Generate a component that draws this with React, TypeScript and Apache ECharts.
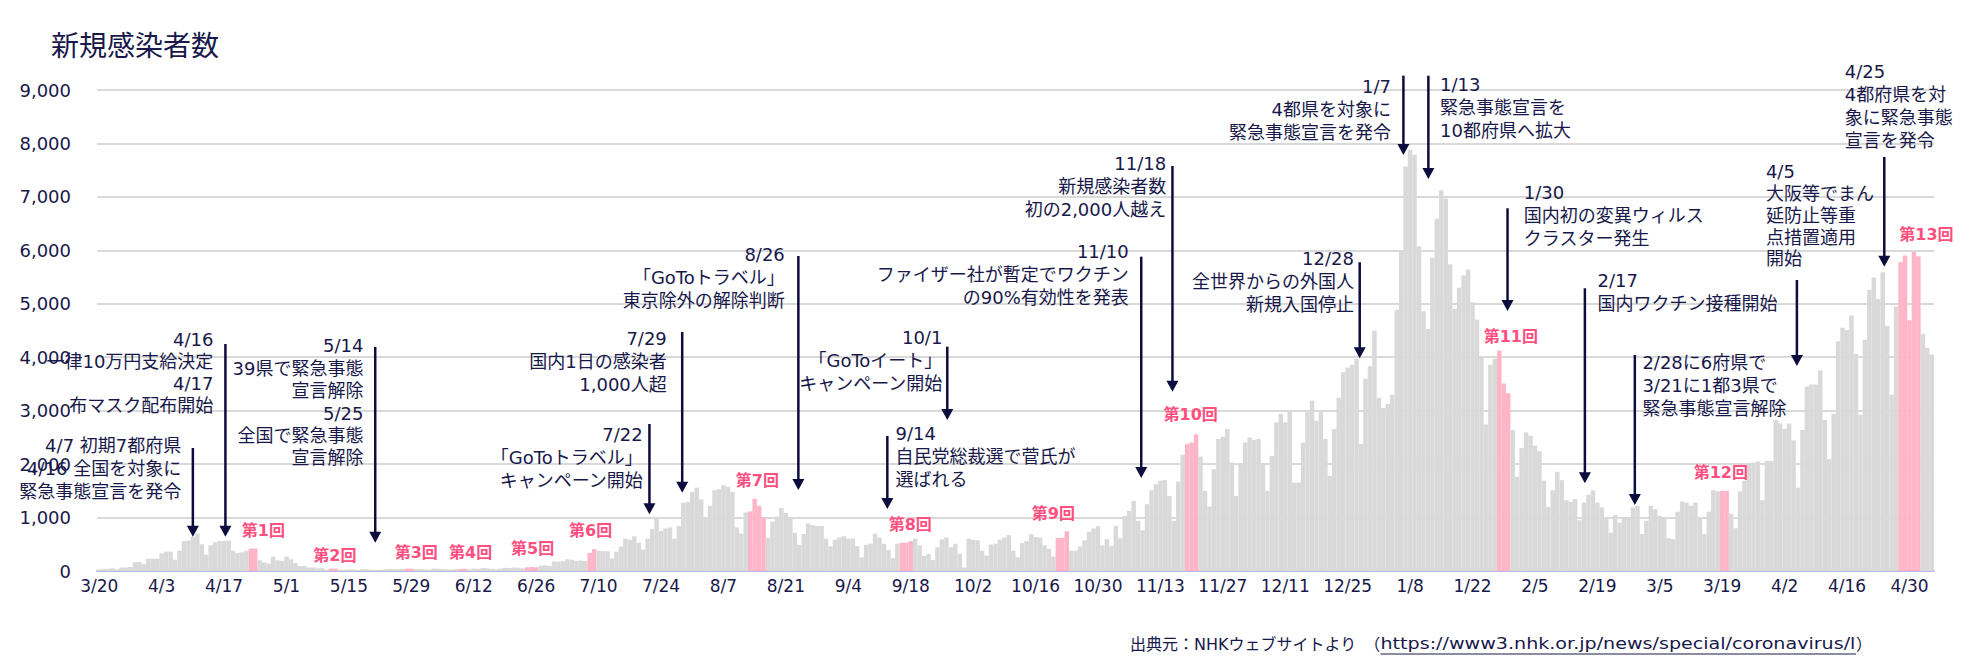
import React, { useEffect, useRef } from "react";
import * as echarts from "echarts";

// ---------------- data ----------------
const START_DATE = "2020-03-20";

const mar2020 = [30, 40, 40, 50, 30, 65, 65, 75, 165, 165, 127, 230];
const apr2020 = [230, 230, 330, 360, 360, 210, 380, 560, 570, 640, 700, 500, 305, 480, 540, 560, 560, 570, 380, 340, 350, 380, 420, 420, 200, 160, 140, 270, 200, 190];
const may2020 = [270, 220, 150, 95, 95, 65, 65, 50, 50, 20, 45, 45, 25, 25, 30, 30, 20, 35, 30, 25, 20, 15, 30, 40, 35, 30, 40, 45, 45, 40, 35];
const jun2020 = [30, 25, 45, 40, 35, 30, 25, 35, 35, 40, 30, 45, 40, 55, 50, 40, 30, 45, 60, 55, 65, 60, 50, 70, 75, 70, 100, 105, 95, 180];
const jul2020 = [175, 185, 220, 210, 190, 195, 185, 340, 410, 380, 370, 370, 235, 360, 460, 605, 585, 650, 530, 400, 605, 785, 975, 750, 795, 815, 605, 840, 1275, 1290, 1480];
const aug2020 = [1560, 1340, 975, 1220, 1515, 1530, 1605, 1575, 1480, 815, 700, 1095, 1115, 1350, 1220, 1005, 620, 925, 1020, 1180, 1085, 1005, 715, 490, 690, 890, 860, 840, 840, 605, 460];
const sep2020 = [585, 625, 650, 605, 605, 465, 255, 490, 510, 700, 625, 510, 395, 240, 510, 530, 530, 560, 605, 480, 285, 320, 205, 445, 590, 625, 445, 510, 320, 65];
const oct2020 = [605, 585, 575, 380, 285, 495, 510, 585, 625, 670, 380, 255, 520, 560, 690, 635, 625, 480, 415, 270, 620, 620, 745, 380, 380, 460, 575, 735, 795, 840, 480];
const nov2020 = [595, 470, 845, 610, 1030, 1125, 1310, 940, 760, 1250, 1510, 1625, 1690, 1700, 1405, 940, 1675, 2175, 2375, 2405, 2560, 2140, 1500, 1205, 1905, 2470, 2510, 2655, 2030, 1405];
const dec2020 = [2010, 2405, 2500, 2450, 2470, 2010, 1500, 2155, 2780, 2940, 2780, 3010, 1655, 1655, 2405, 2970, 3190, 2810, 2970, 2470, 1780, 2655, 3240, 3720, 3810, 3860, 3970, 2375, 3595, 3830, 4500];
const jan2021 = [3240, 3050, 3125, 3300, 4890, 5970, 7570, 7880, 7790, 6075, 4860, 4530, 5860, 6590, 7125, 6970, 5740, 4905, 5300, 5530, 5640, 5030, 4700, 4000, 2740, 3860, 3970, 4125, 3510, 3325, 2640];
const feb2021 = [1760, 2300, 2595, 2530, 2345, 2240, 1690, 1200, 1510, 1855, 1700, 1325, 1295, 1345, 950, 1280, 1425, 1510, 1280, 1190, 1000, 720, 1050, 905, 1010, 1000, 1190, 1220];
const mar2021 = [690, 940, 1220, 1155, 1030, 1010, 615, 595, 1110, 1300, 1280, 1220, 1280, 1010, 690, 1110, 1510, 1490, 1500, 1500, 1075, 800, 1490, 1690, 2010, 2030, 2050, 1325, 2060, 2060, 2825];
const apr2021 = [2760, 2655, 2760, 2440, 1560, 2640, 3450, 3490, 3490, 3750, 2825, 2095, 2940, 4300, 4550, 4510, 4780, 4060, 2925, 4325, 5260, 5490, 5090, 5590, 4590, 3300, 4950, 5780, 5905, 4690];
const may2021 = [5970, 5890, 4440, 4175, 4050];

// survey (第N回) days, highlighted in pink
const surveyDays = [
  "2020/4/23", "2020/4/24",
  "2020/5/11", "2020/5/12",
  "2020/5/28", "2020/5/29",
  "2020/6/9", "2020/6/10",
  "2020/6/24", "2020/6/25", "2020/6/26",
  "2020/7/8", "2020/7/9",
  "2020/8/13", "2020/8/14", "2020/8/15", "2020/8/16",
  "2020/9/16", "2020/9/17", "2020/9/18",
  "2020/10/21", "2020/10/22", "2020/10/23",
  "2020/11/19", "2020/11/20", "2020/11/21",
  "2021/1/28", "2021/1/29", "2021/1/30",
  "2021/3/19", "2021/3/20",
  "2021/4/28", "2021/4/29", "2021/4/30", "2021/5/1", "2021/5/2",
];

// survey label: text, category position, value height
const surveyLabels: [string, number, number][] = [
  ["第1回", 36.8, 754],
  ["第2回", 52.85, 299],
  ["第3回", 71.1, 337],
  ["第4回", 83.3, 337],
  ["第5回", 97.2, 412],
  ["第6回", 110.2, 767],
  ["第7回", 147.6, 1684],
  ["第8回", 181.9, 861],
  ["第9回", 214.0, 1067],
  ["第10回", 244.8, 2919],
  ["第11回", 316.6, 4397],
  ["第12回", 363.7, 1839],
  ["第13回", 409.8, 6287],
];

// event annotations (arrow at category position, from value `top` down to value `tip`)
type Ann = { at: number; top: number; tip: number; textAt: number; textY: number; align: "left" | "right"; lh?: number; lines: string[] };
const annotations: Ann[] = [
  { at: 21, top: 2302, tip: 642, textAt: 18.4, textY: 2339, align: "right", lines: ["4/7 初期7都府県", "4/16 全国を対象に", "緊急事態宣言を発令"] },
  { at: 28.3, top: 4248, tip: 642, textAt: 25.6, textY: 4323, align: "right", lh: 22, lines: ["4/16", "一律10万円支給決定", "4/17", "布マスク配布開始"] },
  { at: 61.9, top: 4192, tip: 530, textAt: 59.25, textY: 4210, align: "right", lh: 22.4, lines: ["5/14", "39県で緊急事態", "宣言解除", "5/25", "全国で緊急事態", "宣言解除"] },
  { at: 123.4, top: 2751, tip: 1061, textAt: 121.9, textY: 2545, align: "right", lines: ["7/22", "「GoToトラベル」", "キャンペーン開始"] },
  { at: 130.75, top: 4472, tip: 1465, textAt: 127.3, textY: 4341, align: "right", lines: ["7/29", "国内1日の感染者", "1,000人超"] },
  { at: 156.8, top: 5894, tip: 1516, textAt: 153.76, textY: 5913, align: "right", lines: ["8/26", "「GoToトラベル」", "東京除外の解除判断"] },
  { at: 176.75, top: 2526, tip: 1160, textAt: 178.6, textY: 2582, align: "left", lines: ["9/14", "自民党総裁選で菅氏が", "選ばれる"] },
  { at: 190.2, top: 4197, tip: 2826, textAt: 189.1, textY: 4360, align: "right", lines: ["10/1", "「GoToイート」", "キャンペーン開始"] },
  { at: 233.7, top: 5881, tip: 1740, textAt: 230.9, textY: 5969, align: "right", lines: ["11/10", "ファイザー社が暫定でワクチン", "の90%有効性を発表"] },
  { at: 240.7, top: 7579, tip: 3355, textAt: 239.3, textY: 7616, align: "right", lines: ["11/18", "新規感染者数", "初の2,000人越え"] },
  { at: 282.7, top: 5777, tip: 3980, textAt: 281.4, textY: 5838, align: "right", lines: ["12/28", "全世界からの外国人", "新規入国停止"] },
  { at: 292.5, top: 9268, tip: 7784, textAt: 289.7, textY: 9063, align: "right", lines: ["1/7", "4都県を対象に", "緊急事態宣言を発令"] },
  { at: 298.1, top: 9268, tip: 7335, textAt: 300.7, textY: 9094, align: "left", lines: ["1/13", "緊急事態宣言を", "10都府県へ拡大"] },
  { at: 315.85, top: 6787, tip: 4865, textAt: 319.5, textY: 7086, align: "left", lines: ["1/30", "国内初の変異ウィルス", "クラスター発生"] },
  { at: 333.2, top: 5290, tip: 1641, textAt: 336.05, textY: 5427, align: "left", lines: ["2/17", "国内ワクチン接種開始"] },
  { at: 344.4, top: 4042, tip: 1235, textAt: 346.1, textY: 3898, align: "left", lines: ["2/28に6府県で", "3/21に1都3県で", "緊急事態宣言解除"] },
  { at: 380.75, top: 5445, tip: 3836, textAt: 373.8, textY: 7466, align: "left", lh: 21.7, lines: ["4/5", "大阪等でまん", "延防止等重", "点措置適用", "開始"] },
  { at: 400.35, top: 7747, tip: 5694, textAt: 391.5, textY: 9345, align: "left", lines: ["4/25", "4都府県を対", "象に緊急事態", "宣言を発令"] },
];

const TITLE = "新規感染者数";
const SOURCE_PREFIX = "出典元：NHKウェブサイトより　（";
const SOURCE_URL = "https://www3.nhk.or.jp/news/special/coronavirus/l";
const SOURCE_SUFFIX = "）";

// ---------------- helpers ----------------
const dailyCases = [
  ...mar2020, ...apr2020, ...may2020, ...jun2020, ...jul2020, ...aug2020, ...sep2020,
  ...oct2020, ...nov2020, ...dec2020, ...jan2021, ...feb2021, ...mar2021, ...apr2021, ...may2021,
];

function buildDates(start: string, n: number): string[] {
  const [y, m, d] = start.split("-").map(Number);
  const out: string[] = [];
  for (let i = 0; i < n; i++) {
    const dt = new Date(Date.UTC(y, m - 1, d + i));
    out.push(`${dt.getUTCFullYear()}/${dt.getUTCMonth() + 1}/${dt.getUTCDate()}`);
  }
  return out;
}

const NAVY = "#18184a";
const ARROW = "#0c0c3e";
const GRAY = "#d9d9d9";
const PINK = "#ffb5c7";
const PINK_TEXT = "#ff4f7f";
const AXIS_BLUE = "#b9b9f6";
const FONT = "'DejaVu Sans', 'Noto Sans CJK JP', sans-serif";

export default function App() {
  const ref = useRef<HTMLDivElement>(null);

  useEffect(() => {
    if (!ref.current) return;
    const chart = echarts.init(ref.current, undefined, { renderer: "svg" });
    const dates = buildDates(START_DATE, dailyCases.length);
    const pinkSet = new Set(surveyDays);
    const barData = dailyCases.map((v, i) =>
      pinkSet.has(dates[i]) ? { value: v, itemStyle: { color: PINK } } : { value: v }
    );

    chart.setOption({
      animation: false,
      textStyle: { fontFamily: FONT },
      title: {
        text: TITLE,
        left: 46,
        top: 27,
        textStyle: { fontSize: 28, fontWeight: "normal", color: NAVY, fontFamily: FONT },
      },
      grid: { left: 97, right: 36, top: 90, bottom: 97 },
      xAxis: {
        type: "category",
        data: dates,
        boundaryGap: true,
        axisLine: { lineStyle: { color: AXIS_BLUE, width: 2 } },
        axisTick: { alignWithLabel: true, interval: 13, length: 6, lineStyle: { color: AXIS_BLUE, width: 2 } },
        axisLabel: {
          interval: 13,
          color: NAVY,
          fontSize: 17,
          margin: 6,
          fontFamily: FONT,
          formatter: (v: string) => v.split("/").slice(1).join("/"),
        },
      },
      yAxis: {
        type: "value",
        min: 0,
        max: 9000,
        interval: 1000,
        axisLine: { show: false },
        axisTick: { show: false },
        axisLabel: {
          color: NAVY,
          fontSize: 18,
          margin: 26,
          fontFamily: FONT,
          formatter: (v: number) => v.toLocaleString("en-US"),
        },
        splitLine: { lineStyle: { color: GRAY, width: 2 } },
      },
      series: [
        {
          type: "bar",
          data: barData,
          barCategoryGap: "0%",
          barGap: "0%",
          itemStyle: { color: GRAY },
          silent: true,
        },
      ],
    });

    const n = dailyCases.length;
    const p0 = chart.convertToPixel({ gridIndex: 0 }, [0, 0]) as number[];
    const pN = chart.convertToPixel({ gridIndex: 0 }, [n - 1, 0]) as number[];
    const step = (pN[0] - p0[0]) / (n - 1);
    const px = (k: number) => p0[0] + step * k;
    const py = (v: number) => (chart.convertToPixel({ gridIndex: 0 }, [0, v]) as number[])[1];

    const elements: any[] = [];
    const annFont = `18px ${FONT}`;
    annotations.forEach((a) => {
      const x = px(a.at);
      const y1 = py(a.top);
      const y2 = py(a.tip);
      const head = 11;
      elements.push({
        type: "line",
        z: 100,
        silent: true,
        shape: { x1: x, y1, x2: x, y2: y2 - head + 1 },
        style: { stroke: ARROW, lineWidth: 2.5 },
      });
      elements.push({
        type: "polygon",
        z: 100,
        silent: true,
        shape: { points: [[x - 6, y2 - head], [x + 6, y2 - head], [x, y2]] },
        style: { fill: ARROW },
      });
      const lh = a.lh ?? 23;
      elements.push({
        type: "text",
        z: 101,
        silent: true,
        x: px(a.textAt),
        y: py(a.textY) - lh / 2,
        style: {
          text: a.lines.join("\n"),
          font: annFont,
          fill: NAVY,
          align: a.align,
          textAlign: a.align,
          verticalAlign: "top",
          textVerticalAlign: "top",
          lineHeight: lh,
        },
      });
    });

    surveyLabels.forEach(([t, k, v]) => {
      elements.push({
        type: "text",
        z: 101,
        silent: true,
        x: px(k),
        y: py(v),
        style: {
          text: t,
          font: `bold 16px ${FONT}`,
          fill: PINK_TEXT,
          align: "center",
          textAlign: "center",
          verticalAlign: "middle",
          textVerticalAlign: "middle",
        },
      });
    });

    // source footer with underlined URL (URL stretched to the reference's wider Latin face)
    const footFont = `16px ${FONT}`;
    const ctx = document.createElement("canvas").getContext("2d");
    let prefixW = 255;
    let urlW = 400;
    if (ctx) {
      ctx.font = footFont;
      prefixW = ctx.measureText(SOURCE_PREFIX).width;
      urlW = ctx.measureText(SOURCE_URL).width;
    }
    const footX = 1130;
    const footY = 644;
    const urlX = footX + prefixW;
    const urlEnd = 1856;
    const urlScale = Math.max(0.8, Math.min(1.4, (urlEnd - urlX) / urlW));
    const textStyleBase = {
      font: footFont,
      fill: NAVY,
      align: "left",
      textAlign: "left",
      verticalAlign: "middle",
      textVerticalAlign: "middle",
    };
    elements.push({
      type: "text", z: 101, silent: true, x: footX, y: footY,
      style: { ...textStyleBase, text: SOURCE_PREFIX },
    });
    elements.push({
      type: "text", z: 101, silent: true, x: urlX, y: footY, scaleX: urlScale,
      style: { ...textStyleBase, text: SOURCE_URL },
    });
    elements.push({
      type: "text", z: 101, silent: true, x: urlX + urlW * urlScale, y: footY,
      style: { ...textStyleBase, text: SOURCE_SUFFIX },
    });
    elements.push({
      type: "line",
      z: 101,
      silent: true,
      shape: { x1: urlX, y1: footY + 10, x2: urlX + urlW * urlScale, y2: footY + 10 },
      style: { stroke: NAVY, lineWidth: 1 },
    });

    chart.setOption({ graphic: { elements } });

    return () => chart.dispose();
  }, []);

  return (
    <div
      ref={ref}
      style={{ position: "absolute", left: 0, top: 0, width: 1970, height: 668, background: "#ffffff" }}
    />
  );
}
